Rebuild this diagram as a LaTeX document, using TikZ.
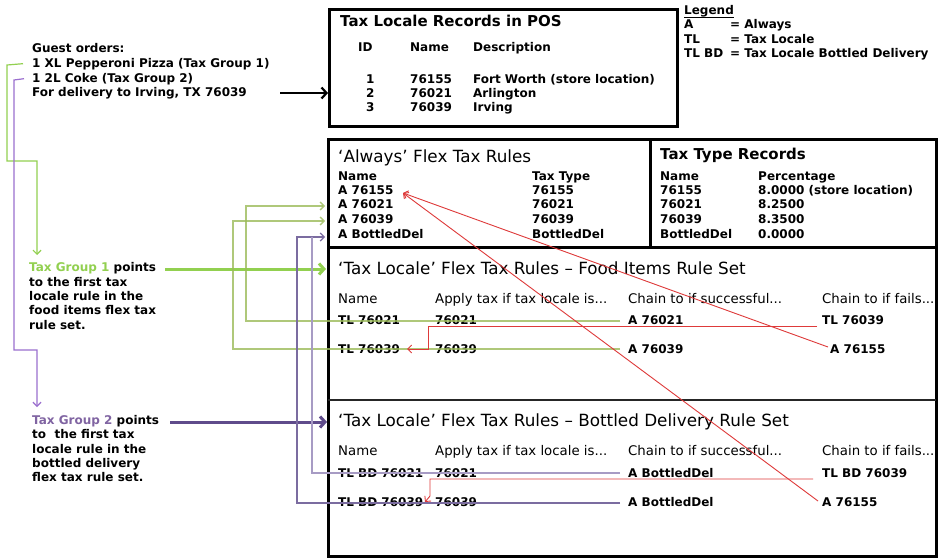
\documentclass[tikz,border=0pt]{standalone}
\usepackage{fontspec}
\setmainfont{DejaVu Sans}
\usetikzlibrary{arrows.meta}
\definecolor{tgGreen}{HTML}{92D050}
\definecolor{tgPurple}{HTML}{8064A2}
\definecolor{thickPurple}{HTML}{5F4B8B}
\definecolor{leftPurple}{HTML}{9B6FCF}
\definecolor{olive}{HTML}{9BBB59}
\definecolor{rowPurpleL}{HTML}{A79BC4}
\definecolor{rowPurpleD}{HTML}{7B6CA0}
\definecolor{redc}{HTML}{DE3A3A}
\tikzset{
  bt/.style={anchor=base west, inner sep=0pt, font=\fontsize{12}{14}\selectfont\bfseries},
  rt/.style={anchor=base west, inner sep=0pt, font=\fontsize{13.3}{15}\selectfont},
  bigt/.style={anchor=base west, inner sep=0pt, font=\fontsize{15}{17}\selectfont\bfseries},
  sect/.style={anchor=base west, inner sep=0pt, font=\fontsize{16.8}{19}\selectfont},
  frame/.style={draw=black, line width=3pt},
  barb/.style={-{Straight Barb[length=4pt,width=8pt]}},
  thickbarb/.style={-{Straight Barb[length=5pt,width=11pt]}},
  oliveline/.style={draw=olive, draw opacity=0.8, line width=1.3pt, barb},
  redline/.style={draw=redc, line width=0.9pt, barb},
}
\begin{document}
\begin{tikzpicture}[x=1pt,y=-1pt]
\useasboundingbox[fill=white] (0,0) rectangle (938,559);

% ---------- left: guest order ----------
\node[bt] (g0) at (32,53) {Guest orders:};
\node[bt] (g1) at (32,68) {1 XL Pepperoni Pizza (Tax Group 1)};
\node[bt] (g2) at (32,83) {1 2L Coke (Tax Group 2)};
\node[bt] (g3) at (32,97) {For delivery to Irving, TX 76039};

% ---------- POS box ----------
\node[frame, anchor=north west, minimum width=348pt, minimum height=117pt, inner sep=0pt] (pos) at (328,8) {};
\node[bigt] (posT) at (340,27) {Tax Locale Records in POS};
\node[bt] (pID) at (358,52) {ID};
\node[bt] (pNm) at (410,52) {Name};
\node[bt] (pDs) at (473,52) {Description};
\node[bt] (p1a) at (366,84) {1};
\node[bt] (p1b) at (410,84) {76155};
\node[bt] (p1c) at (473,84) {Fort Worth (store location)};
\node[bt] (p2a) at (366,98) {2};
\node[bt] (p2b) at (410,98) {76021};
\node[bt] (p2c) at (473,98) {Arlington};
\node[bt] (p3a) at (366,112) {3};
\node[bt] (p3b) at (410,112) {76039};
\node[bt] (p3c) at (473,112) {Irving};

\coordinate (blkS) at (280,93);
\draw[line width=2.2pt, -{Straight Barb[length=5pt,width=11pt]}] (blkS) -- (blkS -| pos.west);

% ---------- Legend ----------
\node[bt] (lg) at (684,15) {Legend};
\draw[line width=0.9pt] ([yshift=-2.2pt]lg.base west) -- ([yshift=-2.2pt]lg.base east);
\node[bt] (lgA) at (684,29) {A};
\node[bt] (lgAd) at (730,29) {= Always};
\node[bt] (lgT) at (684,44) {TL};
\node[bt] (lgTd) at (730,44) {= Tax Locale};
\node[bt] (lgB) at (684,58) {TL BD};
\node[bt] (lgBd) at (730,58) {= Tax Locale Bottled Delivery};

% ---------- big box ----------
\draw[frame] (328,140) rectangle (936,556);
\draw[frame] (650,140) -- (650,247);
\draw[frame] (328,247) -- (936,247);
\draw[draw=black!85, line width=2pt] (328,400) -- (936,400);

% Always rules
\node[sect] (alT) at (338,163) {‘Always’ Flex Tax Rules};
\node[bt] (alN) at (338,181) {Name};
\node[bt] (alTT) at (532,181) {Tax Type};
\node[bt] (al1) at (338,195) {A 76155};
\node[bt] (al2) at (338,209) {A 76021};
\node[bt] (al3) at (338,223) {A 76039};
\node[bt] (al4) at (338,238) {A BottledDel};
\node[bt] (al1t) at (532,195) {76155};
\node[bt] (al2t) at (532,209) {76021};
\node[bt] (al3t) at (532,223) {76039};
\node[bt] (al4t) at (532,238) {BottledDel};

% Tax type records
\node[bigt] (ttT) at (660,160) {Tax Type Records};
\node[bt] (ttN) at (660,181) {Name};
\node[bt] (ttP) at (758,181) {Percentage};
\node[bt] (tt1) at (660,195) {76155};
\node[bt] (tt2) at (660,209) {76021};
\node[bt] (tt3) at (660,223) {76039};
\node[bt] (tt4) at (660,238) {BottledDel};
\node[bt] (tt1p) at (758,195) {8.0000 (store location)};
\node[bt] (tt2p) at (758,209) {8.2500};
\node[bt] (tt3p) at (758,223) {8.3500};
\node[bt] (tt4p) at (758,238) {0.0000};

% Food items rule set
\node[sect] (fT) at (338,274) {‘Tax Locale’ Flex Tax Rules – Food Items Rule Set};
\node[rt] (fh1) at (338,303) {Name};
\node[rt] (fh2) at (435,303) {Apply tax if tax locale is...};
\node[rt] (fh3) at (628,303) {Chain to if successful...};
\node[rt] (fh4) at (822,303) {Chain to if fails...};
\node[bt] (f1a) at (338,324) {TL 76021};
\node[bt] (f1b) at (435,324) {76021};
\node[bt] (f1c) at (628,324) {A 76021};
\node[bt] (f1d) at (822,324) {TL 76039};
\node[bt] (f2a) at (338,353) {TL 76039};
\node[bt] (f2b) at (435,353) {76039};
\node[bt] (f2c) at (628,353) {A 76039};
\node[bt] (f2d) at (830,353) {A 76155};

% Bottled delivery rule set
\node[sect] (bT) at (338,426) {‘Tax Locale’ Flex Tax Rules – Bottled Delivery Rule Set};
\node[rt] (bh1) at (338,455) {Name};
\node[rt] (bh2) at (435,455) {Apply tax if tax locale is...};
\node[rt] (bh3) at (628,455) {Chain to if successful...};
\node[rt] (bh4) at (822,455) {Chain to if fails...};
\node[bt] (b1a) at (338,477) {TL BD 76021};
\node[bt] (b1b) at (435,477) {76021};
\node[bt] (b1c) at (628,477) {A BottledDel};
\node[bt] (b1d) at (822,477) {TL BD 76039};
\node[bt] (b2a) at (338,506) {TL BD 76039};
\node[bt] (b2b) at (435,506) {76039};
\node[bt] (b2c) at (628,506) {A BottledDel};
\node[bt] (b2d) at (822,506) {A 76155};

% ---------- left annotations ----------
\node[bt] (t1a) at (29,272) {\textcolor{tgGreen}{Tax Group 1} points};
\node[bt] (t1b) at (29,286) {to the first tax};
\node[bt] (t1c) at (29,300) {locale rule in the};
\node[bt] (t1d) at (29,314) {food items flex tax};
\node[bt] (t1e) at (29,329) {rule set.};

\node[bt] (t2a) at (32,424) {\textcolor{tgPurple}{Tax Group 2} points};
\node[bt] (t2b) at (32,438) {to\ \ the first tax};
\node[bt] (t2c) at (32,453) {locale rule in the};
\node[bt] (t2d) at (32,467) {bottled delivery};
\node[bt] (t2e) at (32,481) {flex tax rule set.};

% thin left connectors
\coordinate (tg1tip) at (37,255);
\coordinate (tg2tip) at (37,407);
\draw[draw=tgGreen, line width=1.2pt, barb] ([xshift=-9pt,yshift=1pt]g1.west) -- (7,65) -- (7,161) -- (37,161) -- (tg1tip);
\draw[draw=leftPurple, line width=1.2pt, barb] ([xshift=-8pt,yshift=1pt]g2.west) -- (14,80) -- (14,350) -- (37,350) -- (tg2tip);

% thick arrows to rule sets
\coordinate (ga) at (165,269);
\coordinate (pa) at (170,422);
\draw[draw=tgGreen, line width=3pt, thickbarb] (ga) -- (326,269);
\draw[draw=thickPurple, line width=3pt, thickbarb] (pa) -- (327,422);

% olive connectors (food items -> always)
\draw[oliveline] (620,321) -- (246,321) -- (246,206) -- (325,206);
\draw[oliveline] (620,349) -- (233,349) -- (233,221) -- (325,221);

% purple connectors (bottled -> always)
\draw[draw=rowPurpleD, line width=1.2pt, barb] (620,503) -- (297,503) -- (297,237) -- (325,237);
\draw[draw=rowPurpleL, line width=1.2pt] (620,473) -- (312,473) -- (312,237);

% red connectors
\coordinate (aTip) at (403,193);
\draw[redline] (817,326) -- (428,326) -- (428,349) -- (407,349);
\draw[redline] (828,347) -- (aTip);
\draw[redline] (813,479) -- (430,479) -- (430,496) -- (425,502);
\draw[redline] (818,501) -- (aTip);
\end{tikzpicture}
\end{document}
